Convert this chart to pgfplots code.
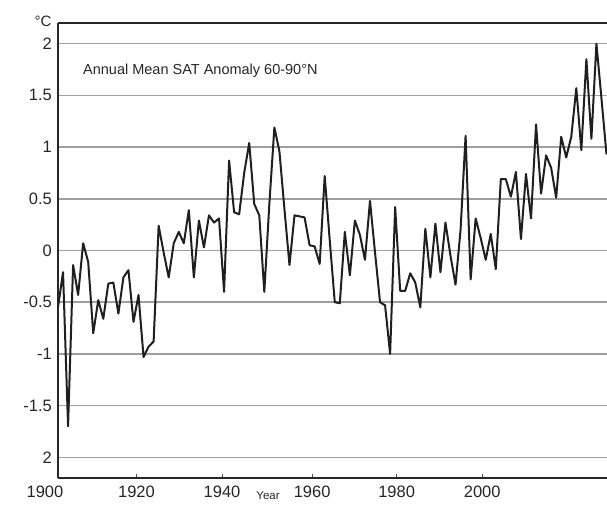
\documentclass[border=0pt]{standalone}
\usepackage{pgfplots}
\pgfplotsset{compat=1.18}
\usepackage{fontspec}
\setmainfont{Liberation Sans}
\begin{document}
\begin{tikzpicture}
\begin{axis}[
  at={(0,0)}, anchor=south west,
  width=550pt, height=455pt, scale only axis,
  xmin=1900, xmax=2009.3, ymin=-2.2, ymax=2.2,
  axis x line*=box, axis y line*=left,
  axis line style={black!85, line width=2.4pt},
  xtick={1915.6,1932.6,1950.5,1967.3,1984.3},
  xticklabels={1920,1940,1960,1980,2000},
  ytick={-2,-1.5,-1,-0.5,0,0.5,1,1.5,2},
  yticklabels={2,-1.5,-1,-0.5,0,0.5,1,1.5,2},
  xtick pos=left, ytick pos=left,
  tick align=inside,
  major tick length=4pt,
  xtick style={black!70, line width=0.8pt},
  ytick style={draw=none},
  ymajorgrids,
  major grid style={gray!75, line width=1.5pt},
  tick label style={font=\fontsize{16.5}{16}\selectfont, inner sep=0pt, text=black!85},
  xticklabel style={yshift=-8pt},
  yticklabel style={xshift=-6pt},
  clip=false,
]
\addplot[black!88, line width=2pt, line join=round, mark=none] coordinates {
(1900,-0.55) (1901,-0.21) (1902,-1.70) (1903,-0.14) (1904,-0.43)
(1905,0.07) (1906,-0.11) (1907,-0.80) (1908,-0.48) (1909,-0.66)
(1910,-0.32) (1911,-0.31) (1912,-0.61) (1913,-0.26) (1914,-0.19)
(1915,-0.69) (1916,-0.43) (1917,-1.03) (1918,-0.93) (1919,-0.88)
(1920,0.24) (1921,-0.02) (1922,-0.26) (1923,0.07) (1924,0.18)
(1925,0.07) (1926,0.39) (1927,-0.26) (1928,0.29) (1929,0.03)
(1930,0.34) (1931,0.27) (1932,0.31) (1933,-0.40) (1934,0.87)
(1935,0.37) (1936,0.35) (1937,0.75) (1938,1.04) (1939,0.45)
(1940,0.34) (1941,-0.40) (1942,0.45) (1943,1.19) (1944,0.96)
(1945,0.40) (1946,-0.14) (1947,0.34) (1948,0.33) (1949,0.32)
(1950,0.05) (1951,0.04) (1952,-0.13) (1953,0.72) (1954,0.10)
(1955,-0.50) (1956,-0.51) (1957,0.18) (1958,-0.24) (1959,0.29)
(1960,0.15) (1961,-0.09) (1962,0.48) (1963,-0.02) (1964,-0.50)
(1965,-0.53) (1966,-1.00) (1967,0.42) (1968,-0.39) (1969,-0.39)
(1970,-0.22) (1971,-0.31) (1972,-0.55) (1973,0.21) (1974,-0.26)
(1975,0.26) (1976,-0.21) (1977,0.27) (1978,-0.05) (1979,-0.33)
(1980,0.20) (1981,1.11) (1982,-0.28) (1983,0.31) (1984,0.12)
(1985,-0.09) (1986,0.16) (1987,-0.18) (1988,0.69) (1989,0.69)
(1990,0.52) (1991,0.76) (1992,0.11) (1993,0.74) (1994,0.31)
(1995,1.22) (1996,0.55) (1997,0.92) (1998,0.80) (1999,0.51)
(2000,1.10) (2001,0.90) (2002,1.10) (2003,1.57) (2004,0.97)
(2005,1.85) (2006,1.08) (2007,2.00) (2008,1.47) (2009,0.93)
};
\node[anchor=west, font=\fontsize{14.5}{15}\selectfont, text=black!85] at (axis cs:1904.3,1.74) {Annual Mean SAT Anomaly 60-90°N};
\node[font=\fontsize{15}{15}\selectfont, inner sep=0pt, text=black!85] at ([xshift=-15pt, yshift=2pt]rel axis cs:0,1) {°C};
\node[anchor=north, inner sep=0pt, font=\fontsize{16.5}{16}\selectfont, text=black!85] at ([xshift=-13pt, yshift=-8pt]rel axis cs:0,0) {1900};
\node[font=\fontsize{11.5}{12}\selectfont, inner sep=0pt, text=black!85] at ([xshift=210pt, yshift=-18pt]rel axis cs:0,0) {Year};
\end{axis}
\pgfresetboundingbox
\path[use as bounding box] (-58pt,-26pt) rectangle (549pt,478pt);
\end{tikzpicture}
\end{document}
